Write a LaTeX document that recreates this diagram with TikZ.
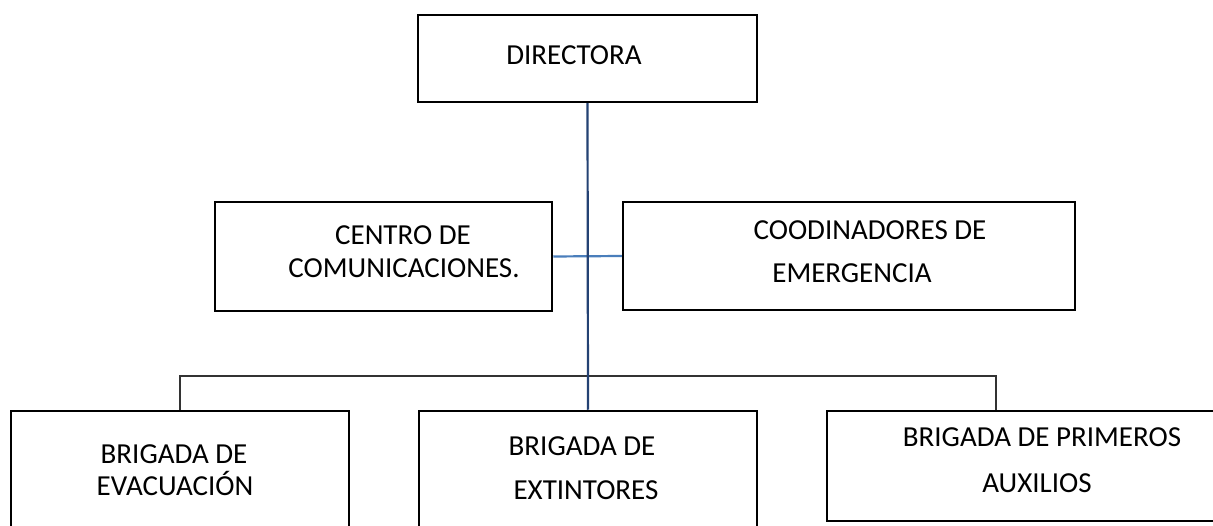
\documentclass[tikz,border=0pt]{standalone}
\usepackage{fontspec}
\setmainfont{Carlito}
\definecolor{lineblue}{RGB}{74,126,187}
\definecolor{navy}{RGB}{36,66,115}
\tikzset{
  box/.style={draw=black, line width=2.5pt, fill=white, inner sep=0pt, rectangle},
  lbl/.style={anchor=base, inner sep=0pt, font=\fontsize{29}{35}\selectfont},
  bus/.style={draw=black!80, line width=1.1pt},
  side/.style={draw=lineblue, line width=2.2pt},
  trunk/.style={draw=navy, line width=2.2pt},
}
\begin{document}
\begin{tikzpicture}[x=1pt,y=1pt]
\useasboundingbox (0,0) rectangle (1213,525);
\clip (0,0) rectangle (1213,525);
\coordinate (busR) at (996,149);
\node[box, minimum width=339pt, minimum height=87pt] (dir) at (587.5,466.5) {};
\node[box, minimum width=337pt, minimum height=109pt] (cc) at (383.5,268.5) {};
\node[box, minimum width=452pt, minimum height=108pt] (ce) at (849,269) {};
\node[box, minimum width=338pt, minimum height=160pt] (lb) at (180,34) {};
\node[box, minimum width=338pt, minimum height=160pt] (mb) at (588,34) {};
\node[box, minimum width=398pt, minimum height=110pt] (rb) at (1026,59) {};
\draw[bus] (lb.north) |- (busR) -- (busR |- rb.north);
\draw[side] (cc.east) -- (ce.west);
\draw[trunk] (dir.south) -- (mb.north);
% texts
\node[lbl] (t1) at (574,460) {DIRECTORA};
\node[lbl] (t2) at (403,280) {CENTRO DE};
\node[lbl] (t3) at (404,247) {COMUNICACIONES.};
\node[lbl] (t4) at (870,285) {COODINADORES DE};
\node[lbl] (t5) at (852,242) {EMERGENCIA};
\node[lbl] (t6) at (174,62) {BRIGADA DE};
\node[lbl] (t7) at (175,30) {EVACUACIÓN};
\node[lbl] (t8) at (582,70) {BRIGADA DE};
\node[lbl] (t9) at (586,26) {EXTINTORES};
\node[lbl] (t10) at (1042,78) {BRIGADA DE PRIMEROS};
\node[lbl] (t11) at (1037,33) {AUXILIOS};
\end{tikzpicture}
\end{document}
